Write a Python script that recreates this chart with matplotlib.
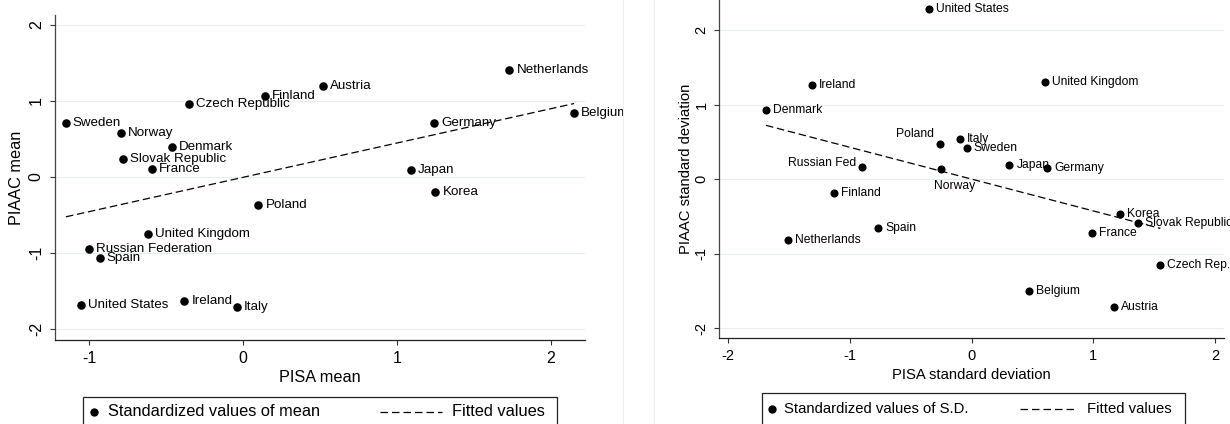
import numpy as np
import matplotlib
matplotlib.use("Agg")
import matplotlib.pyplot as plt
from matplotlib.lines import Line2D
from matplotlib.patches import Rectangle

plt.rcParams['font.family'] = ['Liberation Sans', 'DejaVu Sans']
plt.rcParams['axes.unicode_minus'] = False

# --- data (standardized country values) ---
mean_countries = ["Sweden", "Norway", "Czech Republic", "Finland", "Denmark",
                  "Slovak Republic", "France", "Poland", "Austria", "Netherlands",
                  "Belgium", "Germany", "Japan", "Korea", "United Kingdom",
                  "Russian Federation", "Spain", "United States", "Ireland", "Italy"]
pisa_mean = [-1.15, -0.79, -0.35, 0.14, -0.46, -0.78, -0.59, 0.10, 0.52, 1.73,
             2.15, 1.24, 1.09, 1.25, -0.62, -1.00, -0.93, -1.05, -0.38, -0.04]
piaac_mean = [0.71, 0.575, 0.96, 1.06, 0.40, 0.24, 0.10, -0.37, 1.20, 1.41,
              0.84, 0.715, 0.09, -0.20, -0.75, -0.95, -1.07, -1.69, -1.63, -1.71]

sd_countries = ["United States", "Ireland", "Denmark", "Russian Fed", "Finland",
                "Poland", "Norway", "Italy", "Sweden", "Japan", "Germany",
                "United Kingdom", "Korea", "Slovak Republic", "France", "Czech Rep.",
                "Belgium", "Austria", "Netherlands", "Spain"]
pisa_sd = [-0.35, -1.31, -1.69, -0.90, -1.13, -0.26, -0.25, -0.10, -0.04, 0.31,
           0.62, 0.60, 1.22, 1.37, 0.99, 1.55, 0.47, 1.17, -1.51, -0.77]
piaac_sd = [2.29, 1.26, 0.93, 0.17, -0.19, 0.47, 0.14, 0.545, 0.42, 0.19,
            0.15, 1.31, -0.47, -0.59, -0.725, -1.15, -1.495, -1.72, -0.82, -0.66]

# label placement (pixel offsets), default is to the right of the marker
sd_label_offsets = {"Russian Fed": (-6, 4, 'right'),
                    "Poland": (-6, 10, 'right'),
                    "Norway": (-7, -17, 'left')}

W, H = 1230, 424
fig = plt.figure(figsize=(W / 100, H / 100), dpi=100)

ax1 = fig.add_axes([55 / W, 1 - 340 / H, 530 / W, 325 / H])
ax2 = fig.add_axes([719 / W, 1 - 337.7 / H, 505 / W, 337.7 / H])


def style_axes(ax, tick_fs, pad_x, pad_y):
    for s in ['top', 'right']:
        ax.spines[s].set_visible(False)
    ax.spines['left'].set_color('#444444')
    ax.spines['bottom'].set_color('#222222')
    ax.spines['left'].set_linewidth(0.9)
    ax.spines['bottom'].set_linewidth(0.9)
    ax.grid(axis='y', color='#e4edf0', lw=0.8, zorder=0)
    ax.set_axisbelow(True)
    ax.tick_params(direction='out', length=3.6, width=0.8, color='#333333',
                   labelsize=tick_fs)
    ax.tick_params(axis='x', pad=pad_x)
    ax.tick_params(axis='y', labelrotation=90, pad=pad_y)
    for lab in ax.get_yticklabels():
        lab.set_va('center')
    ax.set_yticks([-2, -1, 0, 1, 2])


def fit_line(ax, x, y):
    x = np.asarray(x)
    y = np.asarray(y)
    b, a = np.polyfit(x, y, 1)
    xs = np.array([x.min(), x.max()])
    ln, = ax.plot(xs, a + b * xs, color='black', lw=0.9, zorder=2)
    ln.set_dashes((6, 3))


# ---- left panel: means ----
ax1.scatter(pisa_mean, piaac_mean, s=38, color='black', zorder=3, linewidths=0)
fit_line(ax1, pisa_mean, piaac_mean)
for name, x, y in zip(mean_countries, pisa_mean, piaac_mean):
    ax1.annotate(name, (x, y), xytext=(7, 0), textcoords='offset pixels',
                 ha='left', va='center', fontsize=9.6)
ax1.set_xlim(-1.221, 2.221)
ax1.set_ylim(-2.145, 2.13)
ax1.set_xticks([-1, 0, 1, 2])
style_axes(ax1, 11.5, 4.5, 4.5)
ax1.set_xlabel("PISA mean", fontsize=11.7, va='center')
ax1.xaxis.set_label_coords(0.5, (340 - 378) / 325)
ax1.set_ylabel("PIAAC mean", fontsize=11.7, va='center')
ax1.yaxis.set_label_coords((17 - 55) / 530, 0.5)

# ---- right panel: standard deviations ----
ax2.scatter(pisa_sd, piaac_sd, s=34, color='black', zorder=3, linewidths=0)
fit_line(ax2, pisa_sd, piaac_sd)
for name, x, y in zip(sd_countries, pisa_sd, piaac_sd):
    dx, dy, ha = sd_label_offsets.get(name, (7, 0, 'left'))
    ax2.annotate(name, (x, y), xytext=(dx, dy), textcoords='offset pixels',
                 ha=ha, va='center', fontsize=8.7)
ax2.set_xlim(-2.076, 2.073)
ax2.set_ylim(-2.126, 2.407)
ax2.set_xticks([-2, -1, 0, 1, 2])
style_axes(ax2, 10.5, 4.5, 3.8)
ax2.set_xlabel("PISA standard deviation", fontsize=10.7, va='center')
ax2.xaxis.set_label_coords(0.5, (337.7 - 375) / 337.7)
ax2.set_ylabel("PIAAC standard deviation", fontsize=10.7, va='center')
ax2.yaxis.set_label_coords((686 - 719) / 505, 0.5)

# clip left graph at its image border, faint borders between graphs
fig.add_artist(Rectangle((623 / W, 0), 30 / W, 1, transform=fig.transFigure,
                         facecolor='white', edgecolor='none', zorder=5))
for xb in (623, 654):
    fig.add_artist(Line2D([xb / W, xb / W], [0, 1], transform=fig.transFigure,
                          color='#eeeeee', lw=0.8, zorder=6))


def draw_key(x0, x1, top, yc, mx, tx, d0, d1, tx2, label, fs):
    fy = 1 - yc / H
    fig.add_artist(Rectangle((x0 / W, -0.2), (x1 - x0) / W, 1 - top / H + 0.2,
                             transform=fig.transFigure, fill=False,
                             edgecolor='#222222', lw=0.9, zorder=6))
    fig.add_artist(Line2D([mx / W], [fy], marker='o', ms=6, color='black',
                          mew=0, transform=fig.transFigure, zorder=6))
    fig.text(tx / W, fy, label, fontsize=fs, va='center', ha='left', zorder=6)
    dl = Line2D([d0 / W, d1 / W], [fy, fy], color='black', lw=0.9,
                transform=fig.transFigure, zorder=6)
    dl.set_dashes((6, 3.2))
    fig.add_artist(dl)
    fig.text(tx2 / W, fy, "Fitted values", fontsize=fs, va='center', ha='left',
             zorder=6)


draw_key(83.3, 556.7, 396.7, 412, 93.5, 108, 380, 442, 451.7,
         "Standardized values of mean", 11.8)
draw_key(761.7, 1185, 392.7, 409, 771.7, 784, 1020, 1077, 1086.7,
         "Standardized values of S.D.", 10.7)

fig.savefig("out.png", dpi=100, facecolor='white')
